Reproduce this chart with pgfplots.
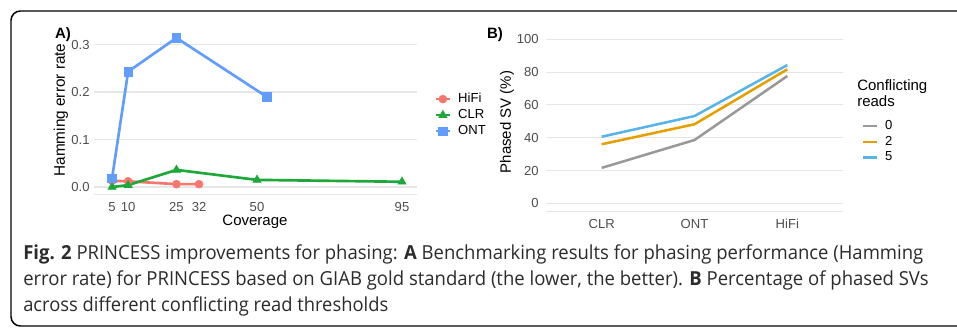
\documentclass[border=0pt]{standalone}
\usepackage{pgfplots}
\pgfplotsset{compat=1.18}
\usepackage{fontspec}
\setmainfont{Liberation Sans}
\newfontfamily\capfont{Open Sans}
\usepackage{graphicx}
\definecolor{hifi}{HTML}{F8766D}
\definecolor{clr}{HTML}{1FA83A}
\definecolor{ont}{HTML}{619CFF}
\definecolor{cgrey}{HTML}{999999}
\definecolor{corange}{HTML}{E69F00}
\definecolor{cblue}{HTML}{56B4E9}
\definecolor{tickc}{HTML}{4D4D4D}
\definecolor{gridc}{HTML}{E6E6E6}
\definecolor{captext}{HTML}{2B2B2B}
\pgfplotsset{
  base/.style={
    scale only axis,
    axis lines*=left,
    y axis line style={draw=none},
    x axis line style={draw=gridc, line width=0.8pt},
    tick style={draw=none},
    major tick length=0pt,
    ymajorgrids,
    grid style={draw=gridc, line width=0.8pt},
    ticklabel style={font=\fontsize{9.8}{11}\selectfont, text=tickc},
    /pgf/number format/assume math mode=true,
    legend style={draw=none, fill=none, font=\fontsize{9.8}{11}\selectfont,
      inner sep=0pt, outer sep=0pt, row sep=2pt,
      nodes={inner sep=0.5pt, text height=7pt, text depth=2pt}},
    legend cell align=left,
    clip=false,
  },
}
\begin{document}
\begin{tikzpicture}
\path[use as bounding box] (0,0) rectangle (717.75pt,247.5pt);
% Panel A
\begin{axis}[base, at={(70.725pt,101.55pt)}, anchor=south west,
  width=241.65pt, height=123.6pt,
  xmin=-0.5, xmax=99.5, ymin=-0.016, ymax=0.331,
  xtick={5,10,25,32,50,95}, ytick={0,0.1,0.2,0.3},
  yticklabel style={/pgf/number format/fixed, /pgf/number format/fixed zerofill, /pgf/number format/precision=1},
  xticklabel style={yshift=-2.5pt},
  legend style={at={(1.057,0.62)}, anchor=north west},
  legend image code/.code={\draw[mark repeat=2,mark phase=2] plot coordinates {(0pt,0pt)(5pt,0pt)(10pt,0pt)}; \path (15pt,0pt);},
]
\addplot[hifi, line width=2pt, mark=*, mark size=3pt, mark options={solid, line width=0.4pt}]
  coordinates {(5,0.013)(10,0.012)(25,0.006)(32,0.006)};
\addlegendentry{HiFi}
\addplot[clr, line width=2pt, mark=triangle*, mark size=3.6pt, mark options={solid, line width=0.4pt}]
  coordinates {(5,0.000)(10,0.004)(25,0.036)(50,0.015)(95,0.011)};
\addlegendentry{CLR}
\addplot[ont, line width=2pt, mark=square*, mark size=3.2pt, mark options={solid, line width=0.4pt}]
  coordinates {(5,0.018)(10,0.243)(25,0.314)(53,0.190)};
\addlegendentry{ONT}
\end{axis}
% Panel B
\begin{axis}[base, at={(409.5pt,88.875pt)}, anchor=south west,
  width=222.75pt, height=135.3pt,
  xmin=0.4, xmax=3.6, ymin=-5, ymax=105,
  xtick={1,2,3}, xticklabels={CLR,ONT,HiFi}, ytick={0,20,40,60,80,100},
  xticklabel style={yshift=-2pt},
  yticklabel style={xshift=-2pt},
  legend style={at={(1.064,0.51)}, anchor=north west, row sep=1.7pt},
  legend image code/.code={\draw (0pt,0pt) -- (10.5pt,0pt); \path (15pt,0pt);},
]
\addplot[cgrey, line width=1.9pt] coordinates {(1,21.6)(2,38.6)(3,77.6)};
\addlegendentry{0}
\addplot[corange, line width=1.9pt] coordinates {(1,36.0)(2,48.2)(3,81.7)};
\addlegendentry{2}
\addplot[cblue, line width=1.9pt] coordinates {(1,40.6)(2,53.2)(3,84.3)};
\addlegendentry{5}
\end{axis}
\begin{scope}[x=0.75pt, y=-0.75pt, yshift=247.5pt]
  \draw[line width=1.1pt, rounded corners=7pt] (975,11) -- (11,11) -- (11,326) -- (975,326);
  \node[font=\bfseries\fontsize{11.25}{12}\selectfont] at (63,35) {A)};
  \node[rotate=90, font=\fontsize{11.5}{12}\selectfont] at (61,110) {Hamming error rate};
  \node[font=\fontsize{11.25}{12}\selectfont] at (255,222) {Coverage};
  \node[font=\bfseries\fontsize{11.25}{12}\selectfont] at (495,35) {B)};
  \node[rotate=90, font=\fontsize{11.25}{12}\selectfont] at (507,122) {Phased SV (\%)};
  \node[anchor=base west, inner sep=0pt, font=\fontsize{11.25}{12}\selectfont] at (857,90) {Conflicting};
  \node[anchor=base west, inner sep=0pt, font=\fontsize{11.25}{12}\selectfont] at (857,106) {reads};
  \node[anchor=base west, inner sep=0pt, text=captext] at (23,259)
    {\resizebox{675pt}{\height}{\capfont\fontsize{14.5}{16}\selectfont\textbf{Fig. 2} PRINCESS improvements for phasing: \textbf{A} Benchmarking results for phasing performance (Hamming}};
  \node[anchor=base west, inner sep=0pt, text=captext] at (23,285)
    {\resizebox{679pt}{\height}{\capfont\fontsize{14.5}{16}\selectfont error rate) for PRINCESS based on GIAB gold standard (the lower, the better). \textbf{B} Percentage of phased SVs}};
  \node[anchor=base west, inner sep=0pt, text=captext] at (23,311)
    {\resizebox{273.75pt}{\height}{\capfont\fontsize{14.5}{16}\selectfont across different conflicting read thresholds}};
\end{scope}
\end{tikzpicture}
\end{document}
